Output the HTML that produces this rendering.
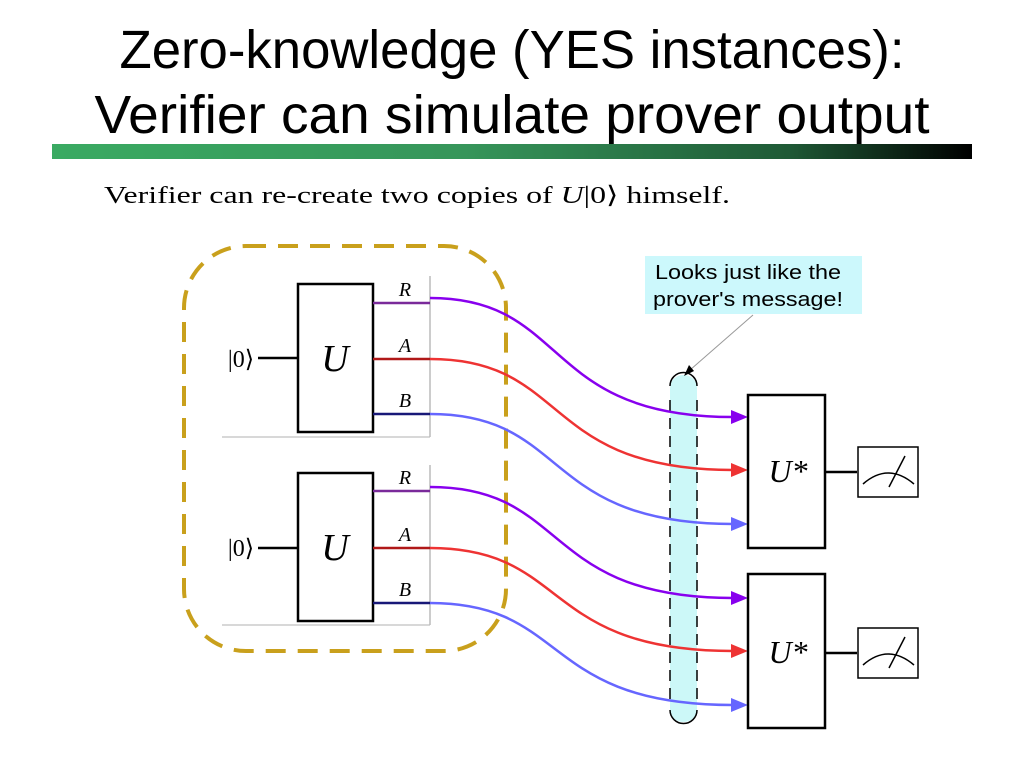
<!DOCTYPE html>
<html><head><meta charset="utf-8"><style>
html,body{margin:0;padding:0;background:#fff;}
svg{display:block;}
</style></head><body>
<svg width="1024" height="768" viewBox="0 0 1024 768" xmlns="http://www.w3.org/2000/svg">
<defs>
<linearGradient id="bar" x1="0" x2="1" y1="0" y2="0">
<stop offset="0" stop-color="#3aaa62"/><stop offset="0.45" stop-color="#36955a"/><stop offset="0.8" stop-color="#1f5a36"/><stop offset="1" stop-color="#000"/>
</linearGradient>
</defs>
<text x="512" y="68" text-anchor="middle" font-family="Liberation Sans, sans-serif" font-size="54" textLength="785" lengthAdjust="spacingAndGlyphs">Zero-knowledge (YES instances):</text>
<text x="512" y="133" text-anchor="middle" font-family="Liberation Sans, sans-serif" font-size="54" textLength="835" lengthAdjust="spacingAndGlyphs">Verifier can simulate prover output</text>
<rect x="52" y="144" width="920" height="15" fill="url(#bar)"/>
<text x="104" y="203" font-family="Liberation Serif, serif" font-size="24" textLength="626" lengthAdjust="spacingAndGlyphs">Verifier can re-create two copies of <tspan font-style="italic">U</tspan>|0⟩ himself.</text>

<rect x="184" y="246" width="322" height="405" rx="62" fill="none" stroke="#c9a01c" stroke-width="4" stroke-dasharray="20 12"/>

<rect x="670" y="375" width="27" height="347" rx="13" fill="#ccf8f8"/>
<path d="M670,386 A13.5,13.5 0 0 1 697,386" fill="none" stroke="#000" stroke-width="1.5"/>
<path d="M670,710 A13.5,13.5 0 0 0 697,710" fill="none" stroke="#000" stroke-width="1.5"/>
<line x1="670" y1="400" x2="670" y2="705" stroke="#000" stroke-width="1.5" stroke-dasharray="11 7"/>
<line x1="697" y1="400" x2="697" y2="705" stroke="#000" stroke-width="1.5" stroke-dasharray="11 7"/>

<rect x="645" y="256" width="217" height="58" fill="#ccf8fc"/>
<text x="748" y="279" text-anchor="middle" font-family="Liberation Sans, sans-serif" font-size="20" textLength="186" lengthAdjust="spacingAndGlyphs">Looks just like the</text>
<text x="748" y="306" text-anchor="middle" font-family="Liberation Sans, sans-serif" font-size="20" textLength="190" lengthAdjust="spacingAndGlyphs">prover's message!</text>
<line x1="753" y1="315" x2="690" y2="370" stroke="#999" stroke-width="1"/>
<path d="M684,376 L689,365 L694,371 z" fill="#000"/>

<g font-family="Liberation Serif, serif" font-style="italic">
<line x1="222" y1="437" x2="430" y2="437" stroke="#ccc" stroke-width="1.5"/>
<line x1="430" y1="276" x2="430" y2="437" stroke="#bbb" stroke-width="1.5"/>
<text x="241" y="367" font-style="normal" font-size="24" text-anchor="middle">|0⟩</text>
<line x1="258" y1="358" x2="298" y2="358" stroke="#000" stroke-width="2.5"/>
<rect x="298" y="284" width="75" height="148" fill="#fff" stroke="#000" stroke-width="2.5"/>
<text x="335" y="371" font-size="38" text-anchor="middle">U</text>
<line x1="373" y1="303" x2="430" y2="303" stroke="#7a2a9a" stroke-width="2.5"/>
<line x1="373" y1="359" x2="430" y2="359" stroke="#b01818" stroke-width="2.5"/>
<line x1="373" y1="414" x2="430" y2="414" stroke="#181878" stroke-width="2.5"/>
<text x="405" y="296" font-size="20" text-anchor="middle">R</text>
<text x="405" y="352" font-size="20" text-anchor="middle">A</text>
<text x="405" y="407" font-size="20" text-anchor="middle">B</text>
<line x1="222" y1="625" x2="430" y2="625" stroke="#ccc" stroke-width="1.5"/>
<line x1="430" y1="465" x2="430" y2="625" stroke="#bbb" stroke-width="1.5"/>
<text x="241" y="556" font-style="normal" font-size="24" text-anchor="middle">|0⟩</text>
<line x1="258" y1="548" x2="298" y2="548" stroke="#000" stroke-width="2.5"/>
<rect x="298" y="473" width="75" height="148" fill="#fff" stroke="#000" stroke-width="2.5"/>
<text x="335" y="560" font-size="38" text-anchor="middle">U</text>
<line x1="373" y1="491" x2="430" y2="491" stroke="#7a2a9a" stroke-width="2.5"/>
<line x1="373" y1="548" x2="430" y2="548" stroke="#b01818" stroke-width="2.5"/>
<line x1="373" y1="603" x2="430" y2="603" stroke="#181878" stroke-width="2.5"/>
<text x="405" y="484" font-size="20" text-anchor="middle">R</text>
<text x="405" y="541" font-size="20" text-anchor="middle">A</text>
<text x="405" y="596" font-size="20" text-anchor="middle">B</text>
</g>

<g fill="none" stroke-width="2.5">
<path d="M430,298 C570,298 540,417 733,417" stroke="#8800ee"/>
<path d="M430,359 C570,359 540,470 733,470" stroke="#ee3333"/>
<path d="M430,414 C570,414 540,524 733,524" stroke="#6666ff"/>
<path d="M430,487 C570,487 540,598 733,598" stroke="#8800ee"/>
<path d="M430,548 C570,548 540,651 733,651" stroke="#ee3333"/>
<path d="M430,603 C570,603 540,705 733,705" stroke="#6666ff"/>
</g>
<path d="M731,410 L748,417 L731,424 z" fill="#8800ee"/>
<path d="M731,463 L748,470 L731,477 z" fill="#ee3333"/>
<path d="M731,517 L748,524 L731,531 z" fill="#6666ff"/>
<path d="M731,591 L748,598 L731,605 z" fill="#8800ee"/>
<path d="M731,644 L748,651 L731,658 z" fill="#ee3333"/>
<path d="M731,698 L748,705 L731,712 z" fill="#6666ff"/>

<rect x="748" y="395" width="77" height="153" fill="#fff" stroke="#000" stroke-width="2.5"/>
<text x="788" y="482" font-family="Liberation Serif, serif" font-style="italic" font-size="32" text-anchor="middle">U*</text>
<rect x="748" y="574" width="77" height="154" fill="#fff" stroke="#000" stroke-width="2.5"/>
<text x="788" y="663" font-family="Liberation Serif, serif" font-style="italic" font-size="32" text-anchor="middle">U*</text>
<line x1="825" y1="472" x2="857" y2="472" stroke="#000" stroke-width="2.5"/>
<line x1="825" y1="653" x2="857" y2="653" stroke="#000" stroke-width="2.5"/>
<g fill="none" stroke="#000" stroke-width="1.5">
<rect x="858" y="447" width="60" height="50"/>
<path d="M863,484 Q888,462 914,484"/>
<line x1="889" y1="487" x2="905" y2="456"/>
<rect x="858" y="628" width="60" height="50"/>
<path d="M863,665 Q888,643 914,665"/>
<line x1="889" y1="668" x2="905" y2="637"/>
</g>
</svg>
</body></html>
